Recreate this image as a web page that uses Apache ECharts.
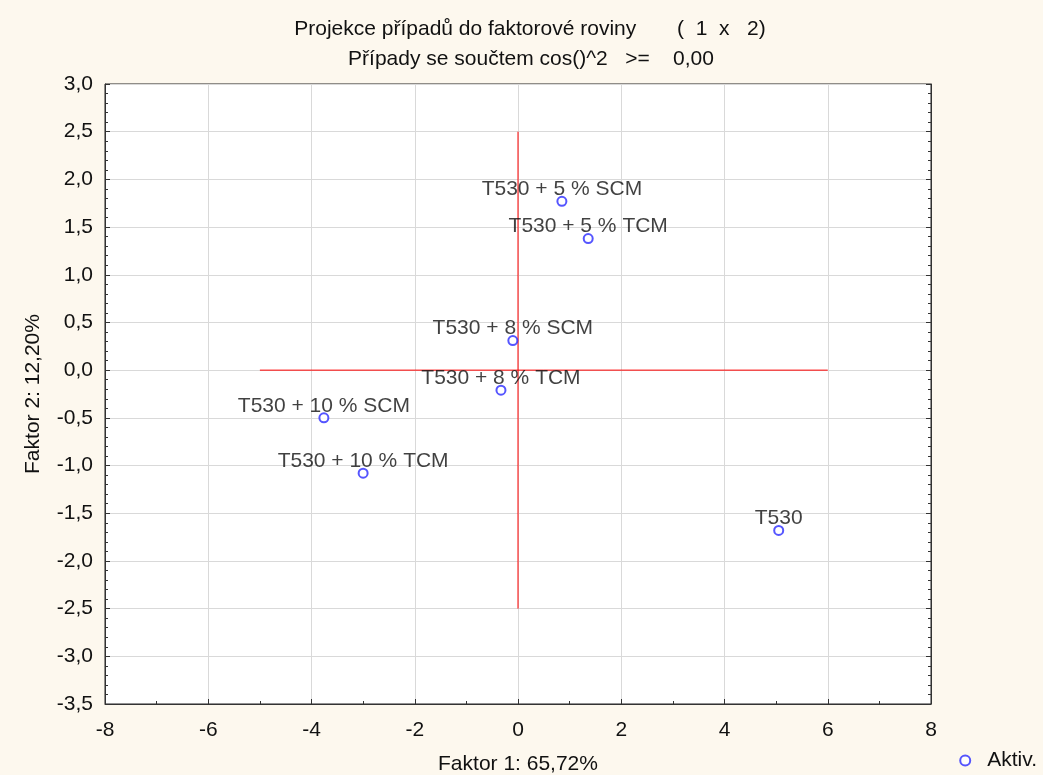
<!DOCTYPE html>
<html>
<head>
<meta charset="utf-8">
<script src="https://cdn.jsdelivr.net/npm/echarts@6/dist/echarts.min.js"></script>
<style>
  html, body { margin: 0; padding: 0; background: #fdf8ee; }
  #chart { width: 1043px; height: 775px; }
</style>
</head>
<body>
<div id="chart"></div>
<script>
// case names and their factor scores (Faktor 1, Faktor 2)
const caseNames = ['T530 + 5 % SCM', 'T530 + 5 % TCM', 'T530 + 8 % SCM', 'T530 + 8 % TCM',
  'T530 + 10 % SCM', 'T530 + 10 % TCM', 'T530'];
const factor1 = [0.85, 1.36, -0.10, -0.33, -3.76, -3.00, 5.05];
const factor2 = [1.77, 1.38, 0.31, -0.21, -0.50, -1.08, -1.68];

// red reference cross
const crossH = [[-5, 0], [6, 0]];
const crossV = [[0, -2.5], [0, 2.5]];

const xMin = -8, xMax = 8, xStep = 2;
const yMin = -3.5, yMax = 3.0, yStep = 0.5;

const font = 'Arial, "Liberation Sans", sans-serif';
const fs = 21;
const comma = (v, d) => v.toFixed(d).replace('.', ',');

const points = factor1.map((x, i) => [x, factor2[i], caseNames[i]]);

const chart = echarts.init(document.getElementById('chart'));

chart.setOption({
  backgroundColor: '#fdf8ee',
  animation: false,
  title: [
    {
      text: 'Projekce případů do faktorové roviny       (  1  x   2)',
      left: 525, top: 14, textAlign: 'center',
      textStyle: { fontFamily: font, fontSize: fs, fontWeight: 'normal', color: '#111' }
    },
    {
      text: 'Případy se součtem cos()^2   >=    0,00',
      left: 526, top: 44, textAlign: 'center',
      textStyle: { fontFamily: font, fontSize: fs, fontWeight: 'normal', color: '#111' }
    }
  ],
  legend: {
    data: ['Aktiv.'],
    right: 6, bottom: 4, padding: 0,
    icon: 'emptyCircle',
    itemWidth: 10, itemHeight: 10,
    textStyle: { fontFamily: font, fontSize: fs, color: '#111', padding: [0, 0, 0, 12] }
  },
  grid: {
    left: 105, right: 112, top: 84, bottom: 71,
    outerBoundsMode: 'none',
    show: true, backgroundColor: '#ffffff', borderColor: '#222', borderWidth: 1
  },
  xAxis: {
    type: 'value', min: xMin, max: xMax, interval: xStep,
    name: 'Faktor 1: 65,72%', nameLocation: 'middle', nameGap: 50,
    nameTextStyle: { fontFamily: font, fontSize: fs, color: '#111' },
    axisLine: { onZero: false, lineStyle: { color: '#333' } },
    axisTick: { inside: true, length: 5, lineStyle: { color: '#333' } },
    minorTick: { show: true, splitNumber: 2, length: 3, lineStyle: { color: '#333' } },
    axisLabel: { fontFamily: font, fontSize: fs, color: '#111', margin: 16, formatter: v => String(v) },
    splitLine: { show: true, lineStyle: { color: '#d9d9d9' } }
  },
  yAxis: [
    {
      type: 'value', min: yMin, max: yMax, interval: yStep,
      name: 'Faktor 2: 12,20%', nameLocation: 'middle', nameGap: 61,
      nameTextStyle: { fontFamily: font, fontSize: fs, color: '#111' },
      axisLine: { show: true, onZero: false, lineStyle: { color: '#333' } },
      axisTick: { inside: true, length: 5, lineStyle: { color: '#333' } },
      minorTick: { show: true, splitNumber: 5, length: 3, lineStyle: { color: '#333' } },
      axisLabel: { fontFamily: font, fontSize: fs, color: '#111', margin: 12, formatter: v => comma(v, 1) },
      splitLine: { show: true, lineStyle: { color: '#d9d9d9' } }
    },
    {
      type: 'value', min: yMin, max: yMax, interval: yStep, position: 'right',
      axisLine: { show: true, onZero: false, lineStyle: { color: '#333' } },
      axisTick: { inside: true, length: 5, lineStyle: { color: '#333' } },
      minorTick: { show: true, splitNumber: 5, length: 3, lineStyle: { color: '#333' } },
      axisLabel: { show: false },
      splitLine: { show: false }
    }
  ],
  series: [
    {
      type: 'line', data: crossH, symbol: 'none', silent: true,
      lineStyle: { color: '#ff0000', width: 1 }, z: 1
    },
    {
      type: 'line', data: crossV, symbol: 'none', silent: true,
      lineStyle: { color: '#ff0000', width: 1 }, z: 1
    },
    {
      name: 'Aktiv.',
      type: 'scatter',
      data: points,
      symbol: 'emptyCircle',
      symbolSize: 9,
      itemStyle: { color: '#2a2aff', borderColor: '#2a2aff', borderWidth: 1 },
      label: {
        show: true, position: 'top', distance: -4,
        formatter: p => p.data[2],
        fontFamily: font, fontSize: fs, color: '#111'
      },
      z: 3
    }
  ]
});
</script>
</body>
</html>
